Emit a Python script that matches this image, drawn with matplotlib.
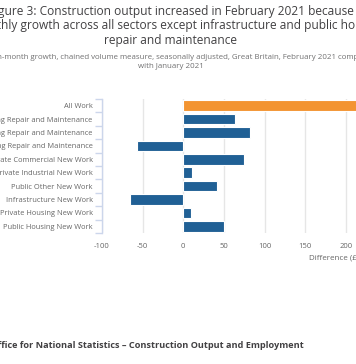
import numpy as np
import matplotlib
matplotlib.use("Agg")
import matplotlib.pyplot as plt

# data (GBP million, Feb 2021 vs Jan 2021)
sectors = [
    "All Work",
    "Non-housing Repair and Maintenance",
    "Private Housing Repair and Maintenance",
    "Public Housing Repair and Maintenance",
    "Private Commercial New Work",
    "Private Industrial New Work",
    "Public Other New Work",
    "Infrastructure New Work",
    "Private Housing New Work",
    "Public Housing New Work",
]
difference = [245, 64, 82, -57, 75, 11, 42, -66, 10, 50]
x_ticks = [-100, -50, 0, 50, 100, 150, 200, 250]

title = ("Figure 3: Construction output increased in February 2021 because\n"
         "of monthly growth across all sectors except infrastructure and public housing\n"
         "repair and maintenance")
subtitle = ("Month-on-month growth, chained volume measure, seasonally adjusted, Great Britain, February 2021 compared\n"
            "with January 2021")
source = "Source: Office for National Statistics \u2013 Construction Output and Employment"

plt.rcParams["font.family"] = ["Open Sans", "DejaVu Sans"]

W, H = 356, 364
fig = plt.figure(figsize=(W / 100, H / 100), dpi=100)
fig.patch.set_facecolor("white")

# axes: -100 at x=102px, 0 at x=183px, right edge of figure clips the rest
x0, x_zero = 102, 183.3
px_per_unit = (x_zero - x0) / 100
right_val = (W - x_zero) / px_per_unit
ax = fig.add_axes([x0 / W, 1 - 233 / H, (W - x0) / W, 134 / H])

y = np.arange(len(sectors))
colors = ["#f39431"] + ["#206095"] * (len(sectors) - 1)
ax.barh(y, difference, height=0.8, color=colors, edgecolor="white", linewidth=0.8, zorder=3)

ax.set_xticks(x_ticks)
ax.set_xticklabels([str(v) for v in x_ticks])
ax.set_yticks(y)
ax.set_yticklabels(sectors)
ax.set_yticks(np.arange(-0.5, len(sectors), 1), minor=True)
ax.set_xlim(-100, right_val)
ax.set_ylim(len(sectors) - 0.5, -0.5)

for s in ["top", "right", "bottom"]:
    ax.spines[s].set_visible(False)
ax.spines["left"].set_color("#ccd6eb")
ax.spines["left"].set_linewidth(1)

ax.xaxis.grid(True, color="#e6e6e6", linewidth=1, zorder=0)
ax.tick_params(axis="x", length=0, pad=7, labelsize=5.5, labelcolor="#666666")
ax.tick_params(axis="y", which="major", length=0, pad=6.7, labelsize=5.4, labelcolor="#666666")
ax.tick_params(axis="y", which="minor", length=5, width=1, color="#ccd6eb")

fig.text(309 / W, 1 - 258 / H, "Difference (\u00a3 million)", fontsize=5.8,
         color="#666666", ha="left", va="center")

fig.text(171 / W, 1 - 26 / H, title, fontsize=8.6, color="#414042",
         ha="center", va="center", linespacing=1.15)
fig.text(171 / W, 1 - 62 / H, subtitle, fontsize=5.7, color="#707071",
         ha="center", va="center", linespacing=1.3)
fig.text(304 / W, 1 - 346 / H, source, fontsize=6.6, color="#414042",
         fontweight="bold", ha="right", va="center")

fig.savefig("out.png", dpi=100, facecolor="white")
